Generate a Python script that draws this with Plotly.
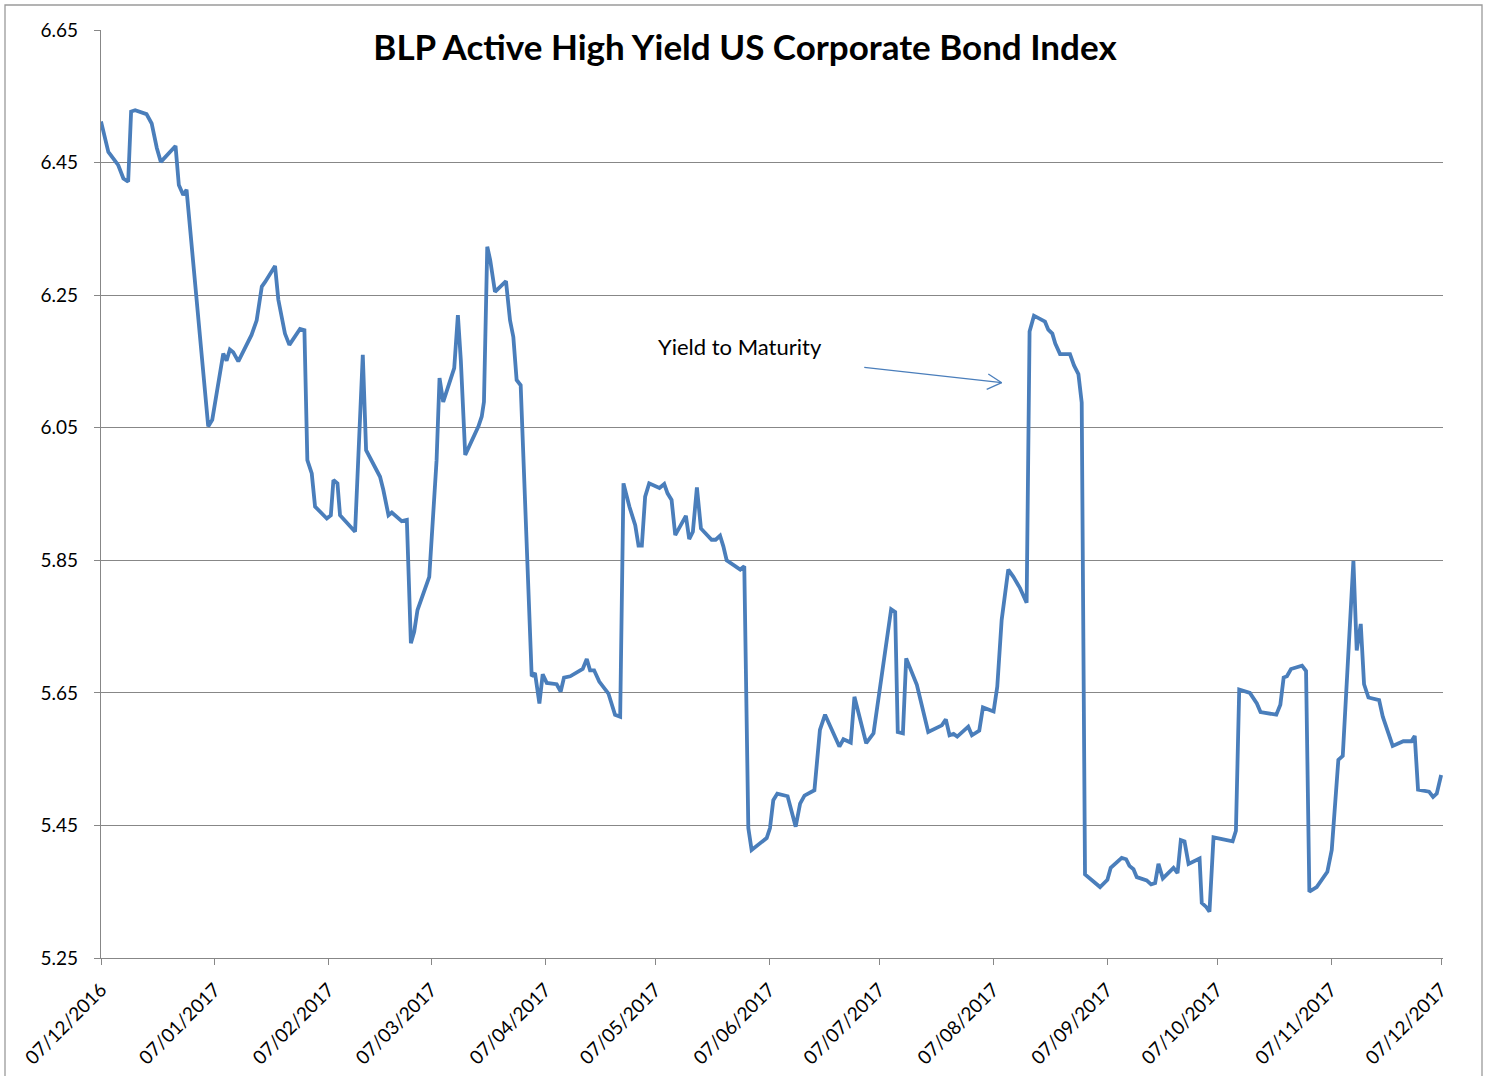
import pandas as pd
import plotly.graph_objects as go

# ---- data ----
start_date = "2016-12-07"
# days elapsed since start_date for each observation
day_offset = [
    0, 2.0, 4.7, 6.1, 7.4, 8.2, 9.3, 12.4, 13.8, 15.2,
    16.3, 20.3, 21.2, 22.4, 23.3, 29.2, 30.3, 33.3, 34.2, 35.1,
    36.0, 37.4, 41.0, 42.4, 43.8, 44.7, 47.4, 48.3, 50.1, 51.3,
    54.2, 55.4, 56.2, 57.4, 58.3, 61.5, 62.6, 63.3, 64.4, 65.1,
    69.2, 71.3, 72.2, 76.0, 76.9, 78.3, 79.2, 81.9, 83.3, 84.4,
    85.3, 86.2, 89.4, 90.1, 91.4, 92.2, 93.2, 96.2, 97.2, 98.0,
    99.2, 102.8, 103.7, 104.3, 105.2, 106.0, 107.3, 110.3, 111.4, 112.3,
    113.2, 114.3, 117.3, 118.2, 119.4, 120.3, 121.4, 124.1, 125.2, 126.1,
    127.8, 131.2, 132.3, 133.2, 134.3, 135.7, 138.2, 140.0, 141.4, 142.3,
    143.9, 145.5, 146.4, 147.3, 148.2, 149.3, 152.1, 153.4, 154.3, 155.4,
    156.4, 159.3, 160.2, 161.2, 162.3, 163.4, 166.3, 167.4, 168.6, 169.5,
    170.4, 174.1, 175.2, 176.3, 177.2, 181.3, 182.2, 183.1, 184.2, 187.0,
    189.2, 190.4, 191.6, 194.3, 195.8, 197.2, 198.6, 201.1, 202.2, 204.2,
    205.2, 206.7, 208.4, 210.4, 212.0, 215.2, 216.3, 217.0, 218.4, 219.3,
    222.2, 225.3, 229.0, 230.1, 231.1, 232.2, 233.2, 236.2, 237.2, 239.2,
    240.2, 243.1, 244.1, 245.3, 247.1, 248.5, 250.3, 252.1, 252.9, 254.1,
    257.1, 258.0, 259.1, 259.9, 261.2, 263.9, 265.0, 266.2, 267.1, 268.0,
    272.1, 274.1, 275.0, 278.0, 279.2, 280.1, 281.2, 282.1, 284.8, 286.0,
    287.1, 288.0, 289.2, 292.1, 293.2, 294.1, 295.1, 296.2, 299.2, 299.8,
    301.0, 301.9, 303.0, 308.2, 309.1, 310.0, 312.9, 314.8, 315.8, 320.1,
    321.2, 322.1, 323.0, 324.1, 327.1, 328.2, 329.1, 331.1, 334.0, 335.2,
    337.0, 338.2, 341.1, 342.0, 343.1, 344.0, 345.2, 348.1, 349.1, 351.8,
    354.7, 356.9, 357.8, 358.7, 361.7, 362.8, 363.8, 365.0,
]
yield_to_maturity = [
    6.512, 6.466, 6.446, 6.426, 6.421, 6.527, 6.529, 6.523, 6.509, 6.472,
    6.451, 6.475, 6.416, 6.401, 6.409, 6.052, 6.062, 6.162, 6.151, 6.168,
    6.164, 6.150, 6.190, 6.212, 6.263, 6.270, 6.294, 6.243, 6.192, 6.175,
    6.199, 6.197, 6.001, 5.981, 5.931, 5.913, 5.918, 5.971, 5.966, 5.918,
    5.893, 6.160, 6.016, 5.976, 5.956, 5.918, 5.922, 5.909, 5.911, 5.725,
    5.742, 5.775, 5.825, 5.891, 6.001, 6.125, 6.089, 6.140, 6.220, 6.152,
    6.009, 6.052, 6.067, 6.089, 6.323, 6.303, 6.255, 6.271, 6.212, 6.187,
    6.122, 6.114, 5.675, 5.680, 5.634, 5.678, 5.665, 5.663, 5.652, 5.673,
    5.675, 5.686, 5.701, 5.684, 5.684, 5.667, 5.649, 5.617, 5.614, 5.966,
    5.931, 5.903, 5.872, 5.872, 5.946, 5.966, 5.959, 5.965, 5.951, 5.941,
    5.888, 5.917, 5.882, 5.893, 5.960, 5.898, 5.881, 5.881, 5.887, 5.871,
    5.850, 5.836, 5.841, 5.446, 5.413, 5.431, 5.446, 5.488, 5.498, 5.494,
    5.448, 5.483, 5.495, 5.503, 5.594, 5.617, 5.599, 5.569, 5.580, 5.575,
    5.644, 5.609, 5.574, 5.589, 5.649, 5.776, 5.772, 5.591, 5.589, 5.702,
    5.662, 5.591, 5.601, 5.610, 5.586, 5.588, 5.584, 5.599, 5.586, 5.593,
    5.628, 5.622, 5.659, 5.760, 5.836, 5.825, 5.808, 5.786, 6.195, 6.219,
    6.210, 6.198, 6.192, 6.177, 6.161, 6.161, 6.144, 6.131, 6.088, 5.376,
    5.357, 5.368, 5.386, 5.401, 5.399, 5.389, 5.384, 5.372, 5.367, 5.361,
    5.363, 5.392, 5.370, 5.386, 5.378, 5.428, 5.426, 5.392, 5.400, 5.333,
    5.327, 5.320, 5.432, 5.426, 5.442, 5.655, 5.650, 5.634, 5.621, 5.617,
    5.632, 5.673, 5.675, 5.686, 5.691, 5.683, 5.350, 5.357, 5.380, 5.413,
    5.549, 5.555, 5.849, 5.714, 5.754, 5.663, 5.643, 5.639, 5.614, 5.570,
    5.577, 5.577, 5.585, 5.504, 5.501, 5.493, 5.498, 5.526,
]
assert len(day_offset) == len(yield_to_maturity)

title_text = "BLP Active High Yield US Corporate Bond Index"
annotation_text = "Yield to Maturity"
y_range = [5.25, 6.65]
x_range = ["2016-12-07", "2017-12-07 12:00"]

dates = pd.Timestamp(start_date) + pd.to_timedelta(day_offset, unit="D")

LINE = "#4a7ebb"
GRID = "#878787"
FONT = "Lato"

fig = go.Figure()
fig.add_trace(go.Scatter(
    x=dates, y=yield_to_maturity, mode="lines",
    line=dict(color=LINE, width=3.8), showlegend=False,
    hoverinfo="x+y",
))

# Plot area in pixels: left 101, right 1443, top 30, bottom 958
W, H = 1489, 1076
L, R, T, B = 101, 1443, 30, 958
pw, ph = R - L, B - T


def px(xp):
    return (xp - L) / pw


def py(yp):
    return (B - yp) / ph


shapes = [
    # outer chart border
    dict(type="rect", xref="paper", yref="paper",
         x0=px(5), x1=px(1482), y0=py(1085), y1=py(5),
         line=dict(color="#9a9a9a", width=1.3), layer="below"),
    # annotation arrow
    dict(type="line", xref="paper", yref="paper",
         x0=px(864.3), y0=py(367.3), x1=px(1001.7), y1=py(382.7),
         line=dict(color=LINE, width=1.3)),
    dict(type="line", xref="paper", yref="paper",
         x0=px(988.3), y0=py(374.0), x1=px(1001.7), y1=py(382.7),
         line=dict(color=LINE, width=1.3)),
    dict(type="line", xref="paper", yref="paper",
         x0=px(986.7), y0=py(389.3), x1=px(1001.7), y1=py(382.7),
         line=dict(color=LINE, width=1.3)),
]

fig.update_layout(
    width=W, height=H,
    margin=dict(l=L, r=W - R, t=T, b=H - B, pad=0, autoexpand=False),
    paper_bgcolor="white", plot_bgcolor="white",
    font=dict(family=FONT, color="#000000", size=19),
    title=dict(text="<b>" + title_text + "</b>", x=745 / W, xref="container",
               xanchor="center", y=1 - 48 / H, yanchor="middle",
               font=dict(family=FONT, size=35, color="#000000")),
    shapes=shapes,
    annotations=[dict(text=annotation_text, xref="paper", yref="paper",
                      x=px(656), y=py(346), xanchor="left", yanchor="middle",
                      showarrow=False, font=dict(family=FONT, size=22, color="#000000"))],
    xaxis=dict(
        type="date", range=x_range, automargin=False,
        tick0="2016-12-07", dtick="M1", tickformat="%d/%m/%Y",
        tickangle=-45, ticks="outside", ticklen=6, tickcolor=GRID,
        showline=True, linecolor=GRID, linewidth=1.3,
        showgrid=False, zeroline=False,
        tickfont=dict(family=FONT, size=19, color="#000000"),
        ticklabelstandoff=6,
    ),
    yaxis=dict(
        range=y_range, tick0=5.25, dtick=0.2, tickformat=".2f", automargin=False,
        ticks="outside", ticklen=6, tickcolor=GRID,
        showline=True, linecolor=GRID, linewidth=1.3,
        showgrid=True, gridcolor=GRID, gridwidth=1.2, zeroline=False,
        tickfont=dict(family=FONT, size=19, color="#000000"),
        ticklabelstandoff=12,
    ),
)

fig.write_html("out.html")
